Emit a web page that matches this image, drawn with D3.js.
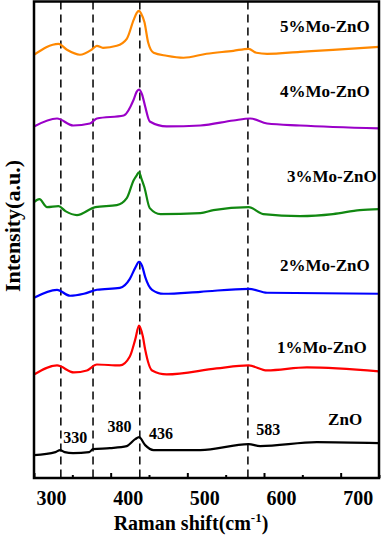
<!DOCTYPE html>
<html>
<head>
<meta charset="utf-8">
<script src="https://cdn.jsdelivr.net/npm/d3@7"></script>
<style>
  body { margin: 0; background: #fff; }
  text { font-family: "Liberation Serif", "Times New Roman", serif; font-weight: bold; }
</style>
</head>
<body>
<script>
(function() {

    var width = 381;
    var height = 536;

    // Raman shift (cm-1) and intensity (a.u., already stacked)
    const wnZnO   = [300, 328, 334, 340, 351, 372, 377, 399, 421, 432, 437, 445, 456, 517, 580, 595, 669, 750];
    const valZnO  = [2.3, 2.6, 2.8, 2.6, 2.5, 2.6, 2.9, 3.0, 3.2, 3.9, 4.1, 3.3, 2.8, 2.8, 3.4, 3.2, 3.6, 3.5];

    const wn1   = [300, 330, 352, 369, 382, 412, 425, 432, 437, 442, 445, 454, 473, 538, 580, 604, 656, 750];
    const val1  = [10.4, 11.3, 10.6, 10.8, 11.4, 11.3, 12.2, 13.9, 15.3, 14.2, 12.9, 10.8, 10.4, 11.0, 11.3, 10.8, 11.1, 10.7];

    const wn2   = [300, 330, 347, 365, 382, 412, 425, 432, 437, 441, 445, 454, 469, 517, 580, 604, 750];
    const val2  = [18.1, 18.9, 18.3, 18.5, 18.9, 19.1, 20.0, 21.1, 21.7, 21.3, 20.2, 18.9, 18.5, 18.7, 19.0, 18.6, 18.5];

    const wn3   = [300, 307, 317, 332, 341, 356, 380, 408, 421, 430, 434, 437, 440, 444, 451, 465, 517, 534, 580, 599, 647, 690, 725, 750];
    const val3  = [27.7, 28.0, 27.2, 27.3, 26.8, 26.4, 27.2, 27.4, 28.1, 29.9, 30.4, 30.7, 30.1, 29.2, 27.1, 26.5, 26.6, 26.9, 27.2, 26.5, 26.3, 26.5, 26.9, 27.0];

    const wn4   = [300, 330, 351, 373, 382, 417, 430, 434, 437, 441, 445, 451, 473, 517, 560, 582, 604, 647, 750];
    const val4  = [35.3, 36.1, 35.4, 35.6, 36.1, 36.4, 38.0, 38.8, 39.0, 38.5, 37.3, 35.8, 35.3, 35.4, 35.9, 36.1, 35.6, 35.4, 35.1];

    const wn5   = [300, 332, 343, 360, 375, 382, 390, 408, 421, 430, 434, 437, 440, 444, 449, 456, 473, 495, 525, 560, 580, 590, 604, 647, 690, 750];
    const val5  = [42.5, 43.6, 43.0, 42.5, 43.0, 43.4, 43.2, 43.4, 44.1, 46.0, 46.7, 46.9, 46.6, 45.8, 43.7, 42.7, 42.4, 42.2, 42.6, 42.9, 43.1, 42.7, 42.6, 42.8, 43.0, 43.3];

    const seriesNames  = ["ZnO", "1%Mo-ZnO", "2%Mo-ZnO", "3%Mo-ZnO", "4%Mo-ZnO", "5%Mo-ZnO"];
    const seriesWn     = [wnZnO, wn1, wn2, wn3, wn4, wn5];
    const seriesVal    = [valZnO, val1, val2, val3, val4, val5];
    const seriesColors = ["#000000", "#ff0000", "#0000ff", "#118811", "#9a00c8", "#ff8800"];

    // label anchors (right end) in data units
    const labelWn  = [728, 734, 738, 747, 738, 738];
    const labelVal = [5.3, 12.55, 20.8, 29.7, 38.25, 44.8];

    // dashed peak lines and their labels
    const peakLines  = [335, 377, 438, 579];
    const peakTexts  = ["330", "380", "436", "583"];
    const peakTextWn = [338, 396, 450, 590];
    const peakTextV  = [3.5, 4.6, 3.9, 4.3];

    const majorTicks = [300, 400, 500, 600, 700];
    const minorTicks = [350, 450, 550, 650, 750];

    const margin = {left: 34, right: 2, top: 1.5, bottom: 58};

    const x = d3.scaleLinear()
        .domain([300, 750])
        .range([margin.left, width - margin.right]);

    const y = d3.scaleLinear()
        .domain([0, 48])
        .range([height - margin.bottom, height - margin.bottom - 478]);

    const svg = d3.select("body")
        .append("svg")
        .attr("width", width)
        .attr("height", height);

    const plotBottom = height - margin.bottom;

    //dashed lines
    svg.selectAll(".peak")
        .data(peakLines)
        .enter()
        .append("line")
        .attr("x1", d => x(d))
        .attr("x2", d => x(d))
        .attr("y1", margin.top)
        .attr("y2", plotBottom)
        .attr("stroke", "#111")
        .attr("stroke-width", 1.6)
        .attr("stroke-dasharray", "8,5");

    //spectra
    const line = d3.line()
        .x(d => x(d[0]))
        .y(d => y(d[1]))
        .curve(d3.curveMonotoneX);

    svg.selectAll(".spec")
        .data(seriesNames)
        .enter()
        .append("path")
        .attr("d", (d, i) => line(d3.zip(seriesWn[i], seriesVal[i])))
        .attr("fill", "none")
        .attr("stroke", (d, i) => seriesColors[i])
        .attr("stroke-width", 2.2);

    //series names
    svg.selectAll(".name")
        .data(seriesNames)
        .enter()
        .append("text")
        .attr("x", (d, i) => x(labelWn[i]))
        .attr("y", (d, i) => y(labelVal[i]))
        .attr("text-anchor", "end")
        .attr("font-size", 17)
        .text(d => d);

    //peak labels
    svg.selectAll(".ptext")
        .data(peakTexts)
        .enter()
        .append("text")
        .attr("x", (d, i) => x(peakTextWn[i]))
        .attr("y", (d, i) => y(peakTextV[i]))
        .attr("font-size", 16)
        .text(d => d);

    //axes
    const xAxis = d3.axisBottom(x)
        .tickValues(majorTicks)
        .tickSizeInner(-5)
        .tickSizeOuter(0)
        .tickPadding(13)
        .tickFormat(d3.format("d"));

    const gx = svg.append("g")
        .attr("transform", "translate(0," + plotBottom + ")")
        .call(xAxis);
    gx.select(".domain").remove();
    gx.selectAll("line").attr("stroke", "#000").attr("stroke-width", 2);
    gx.selectAll("text")
        .attr("dx", 17)
        .attr("font-size", 20)
        .attr("fill", "#000")
        .style("font-family", "'Liberation Serif', 'Times New Roman', serif")
        .style("font-weight", "bold");

    const gm = svg.append("g")
        .attr("transform", "translate(0," + plotBottom + ")")
        .call(d3.axisBottom(x).tickValues(minorTicks).tickSizeInner(-3).tickSizeOuter(0).tickFormat(""));
    gm.select(".domain").remove();
    gm.selectAll("line").attr("stroke", "#000").attr("stroke-width", 2);

    //frame
    svg.append("rect")
        .attr("x", margin.left)
        .attr("y", margin.top)
        .attr("width", width - margin.right - margin.left)
        .attr("height", plotBottom - margin.top)
        .attr("fill", "none")
        .attr("stroke", "#000")
        .attr("stroke-width", 2.5);

    //axis titles
    const xt = svg.append("text")
        .attr("x", 191)
        .attr("y", 530)
        .attr("text-anchor", "middle")
        .attr("font-size", 20);
    xt.append("tspan").text("Raman shift(cm");
    xt.append("tspan").attr("font-size", 13).attr("dy", -8).text("-1");
    xt.append("tspan").attr("dy", 8).text(")");

    svg.append("text")
        .attr("transform", "translate(20,226) rotate(-90)")
        .attr("text-anchor", "middle")
        .attr("font-size", 22)
        .text("Intensity(a.u.)");

})();
</script>
</body>
</html>
